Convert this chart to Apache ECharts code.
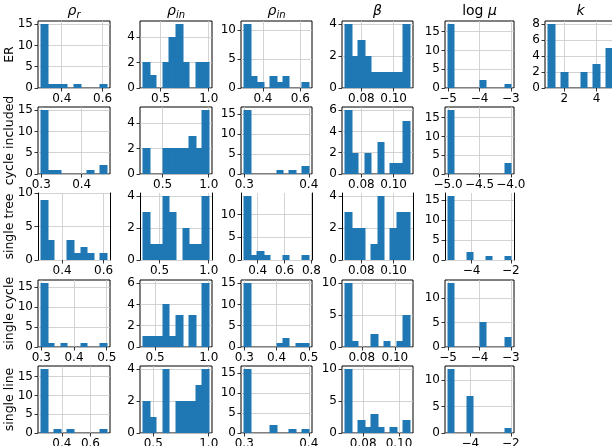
<!DOCTYPE html>
<html>
<head>
<meta charset="UTF-8">
<title>parameter histograms</title>
<script src="https://cdn.jsdelivr.net/npm/echarts@6/dist/echarts.min.js"></script>
</head>
<body style="margin:0">
<div id="chart" style="width:612px;height:446px"></div>
<script>
const rowNames = ['ER', 'cycle included', 'single tree', 'single cycle', 'single line'];
const colTitles = ['{i|ρ}{s|r}', '{i|ρ}{s|in}', '{i|ρ}{s|in}', '{i|β}', '{n|log }{i|μ}', '{i|k}'];

// one entry per row: bin range [lo, hi] (10 bins), counts, x tick labels, y ticks
const rhoRRange = [[0.3, 0.62], [0.3, 0.462], [0.3, 0.615], [0.3, 0.5], [0.256, 0.714]];
const rhoRCounts = [
  [15, 1, 1, 1, 0, 1, 0, 0, 0, 1],
  [15, 1, 1, 0, 0, 0, 0, 1, 0, 2],
  [9, 3, 0, 0, 3, 1, 2, 1, 0, 1],
  [16, 1, 0, 1, 0, 0, 1, 0, 0, 1],
  [17, 0, 1, 0, 1, 0, 0, 0, 0, 1]
];
const rhoRXTicks = [['0.4', '0.6'], ['0.3', '0.4'], ['0.4', '0.6'], ['0.3', '0.4', '0.5'], ['0.4', '0.6']];
const rhoRYTicks = [[0, 5, 10, 15], [0, 5, 10, 15], [0, 5, 10], [0, 5, 10, 15], [0, 5, 10, 15]];

const pInRange = [[0.32, 1.0], [0.29, 1.0], [0.335, 1.0], [0.39, 1.0], [0.41, 1.0]];
const pInCounts = [
  [2, 1, 0, 2, 4, 5, 2, 0, 2, 2],
  [2, 0, 0, 2, 2, 2, 2, 3, 2, 5],
  [3, 1, 1, 4, 3, 0, 2, 1, 1, 4],
  [1, 1, 1, 4, 1, 3, 0, 3, 0, 6],
  [2, 1, 0, 4, 0, 2, 2, 2, 3, 4]
];
const pInXTicks = [['0.5', '1.0'], ['0.5', '1.0'], ['0.5', '1.0'], ['0.5', '1.0'], ['0.5', '1.0']];
const pInYTicks = [[0, 2, 4], [0, 2, 4], [0, 2, 4], [0, 2, 4, 6], [0, 2, 4]];

const pIn2Range = [[0.3, 0.645], [0.3, 0.4], [0.3, 0.78], [0.3, 0.5], [0.3, 0.4]];
const pIn2Counts = [
  [11, 2, 1, 0, 2, 1, 2, 0, 0, 1],
  [16, 0, 0, 0, 0, 1, 0, 1, 0, 2],
  [14, 1, 2, 1, 0, 0, 1, 0, 0, 1],
  [15, 0, 0, 0, 0, 1, 2, 0, 1, 1],
  [16, 0, 0, 0, 2, 0, 0, 1, 0, 1]
];
const pIn2XTicks = [['0.4', '0.6'], ['0.3', '0.4'], ['0.4', '0.6', '0.8'], ['0.3', '0.4', '0.5'], ['0.3', '0.4']];
const pIn2YTicks = [[0, 5, 10], [0, 5, 10, 15], [0, 5, 10], [0, 5, 10, 15], [0, 5, 10, 15]];

const betaRange = [[0.07, 0.11], [0.07, 0.11], [0.07, 0.11], [0.07, 0.109], [0.07, 0.106]];
const betaCounts = [
  [4, 2, 3, 2, 1, 1, 1, 1, 1, 4],
  [6, 2, 0, 2, 0, 3, 0, 1, 1, 5],
  [3, 2, 2, 0, 1, 4, 0, 2, 3, 3],
  [10, 1, 0, 0, 2, 0, 1, 0, 1, 5],
  [10, 0, 2, 1, 3, 1, 0, 1, 0, 2]
];
const betaXTicks = [['0.08', '0.10'], ['0.08', '0.10'], ['0.08', '0.10'], ['0.08', '0.10'], ['0.08', '0.10']];
const betaYTicks = [[0, 2, 4], [0, 2, 4, 6], [0, 2, 4], [0, 5, 10], [0, 5, 10]];

const logMuRange = [[-5, -3], [-5, -4], [-5.2, -2.0], [-5, -3], [-5.1, -2.0]];
const logMuCounts = [
  [17, 0, 0, 0, 0, 2, 0, 0, 0, 1],
  [17, 0, 0, 0, 0, 0, 0, 0, 0, 3],
  [16, 0, 0, 2, 0, 0, 1, 0, 0, 1],
  [13, 0, 0, 0, 0, 5, 0, 0, 0, 2],
  [12, 0, 0, 7, 0, 0, 0, 0, 0, 1]
];
const logMuXTicks = [['−5', '−4', '−3'], ['−5.0', '−4.5', '−4.0'], ['−4', '−2'], ['−5', '−4', '−3'], ['−4', '−2']];
const logMuYTicks = [[0, 5, 10, 15], [0, 5, 10, 15], [0, 5, 10, 15], [0, 5, 10], [0, 5, 10]];

// k only exists for ER
const kRange = [[1, 5]];
const kCounts = [[8, 0, 2, 0, 0, 2, 0, 3, 0, 5]];
const kXTicks = [['2', '4']];
const kYTicks = [[0, 2, 4, 6, 8]];

const columns = [
  { range: rhoRRange, counts: rhoRCounts, xTicks: rhoRXTicks, yTicks: rhoRYTicks },
  { range: pInRange, counts: pInCounts, xTicks: pInXTicks, yTicks: pInYTicks },
  { range: pIn2Range, counts: pIn2Counts, xTicks: pIn2XTicks, yTicks: pIn2YTicks },
  { range: betaRange, counts: betaCounts, xTicks: betaXTicks, yTicks: betaYTicks },
  { range: logMuRange, counts: logMuCounts, xTicks: logMuXTicks, yTicks: logMuYTicks },
  { range: kRange, counts: kCounts, xTicks: kXTicks, yTicks: kYTicks }
];

const colLeft = [38, 140, 241, 342, 445, 545];
const colWidth = [72, 72, 71, 71, 69, 71];
const rowTop = [21, 107, 193, 280, 366];
const cellH = 67;
const font = 'DejaVu Sans';
const gridColor = '#c8c8c8';
const barColor = '#1f77b4';

function drawBin(params, api) {
  const n = api.value(2);
  if (!n) return null;
  const p0 = api.coord([api.value(0), n]);
  const p1 = api.coord([api.value(1), 0]);
  // snap to whole pixels and overlap slightly so neighbouring bins join without seams
  const x0 = Math.round(p0[0]), x1 = Math.round(p1[0]);
  const y0 = Math.round(p0[1]), y1 = Math.round(p1[1]);
  return {
    type: 'rect',
    shape: { x: x0 - 0.5, y: y0, width: x1 - x0 + 1, height: y1 - y0 },
    style: { fill: barColor, stroke: 'none', lineWidth: 0 }
  };
}

const toNum = s => Number(s.replace('−', '-'));

const grids = [], xAxes = [], yAxes = [], series = [];
columns.forEach((col, c) => {
  col.counts.forEach((counts, r) => {
    const gi = grids.length;
    const [lo, hi] = col.range[r];
    const pad = (hi - lo) * 0.05;
    const step = (hi - lo) / counts.length;
    const framed = r !== 2; // the "single tree" row has no top/bottom frame
    const xLabels = col.xTicks[r];
    const xVals = xLabels.map(toNum);
    const yTicks = col.yTicks[r];
    const yMax = Math.max(Math.max(...counts) * 1.05, yTicks[yTicks.length - 1]);

    grids.push({
      left: colLeft[c], top: rowTop[r], width: colWidth[c], height: cellH,
      show: framed, borderColor: '#000', borderWidth: 1, backgroundColor: 'transparent',
      containLabel: false, outerBoundsMode: 'none'
    });
    xAxes.push({
      gridIndex: gi, type: 'value', min: lo - pad, max: hi + pad,
      axisLine: { show: false },
      axisTick: { show: true, customValues: xVals, length: 3.5, lineStyle: { color: '#000', width: 0.8 } },
      axisLabel: {
        customValues: xVals, margin: 5, fontSize: 12, fontFamily: font, color: '#000',
        formatter: v => xLabels[xVals.findIndex(t => Math.abs(t - v) < 1e-9)] ?? ''
      },
      splitLine: { show: true, lineStyle: { color: gridColor, width: 0.8 } }
    });
    const yi = yAxes.length;
    yAxes.push({
      gridIndex: gi, type: 'value', min: 0, max: yMax,
      axisLine: { show: !framed, lineStyle: { color: '#000', width: 1 } },
      axisTick: { show: true, customValues: yTicks, length: 3.5, lineStyle: { color: '#000', width: 0.8 } },
      axisLabel: { customValues: yTicks, margin: 5, fontSize: 12, fontFamily: font, color: '#000' },
      splitLine: { show: true, lineStyle: { color: gridColor, width: 0.8 } }
    });
    if (!framed) {
      yAxes.push({
        gridIndex: gi, type: 'value', position: 'right', min: 0, max: yMax,
        axisLine: { show: true, onZero: false, lineStyle: { color: '#000', width: 1 } },
        axisTick: { show: false }, axisLabel: { show: false }, splitLine: { show: false }
      });
    }
    series.push({
      type: 'custom', xAxisIndex: gi, yAxisIndex: yi, clip: true,
      itemStyle: { borderWidth: 0 },
      renderItem: drawBin, encode: { x: [0, 1], y: 2 },
      data: counts.map((n, b) => [lo + b * step, lo + (b + 1) * step, n])
    });
  });
});

const graphics = [];
colTitles.forEach((t, c) => {
  graphics.push({
    type: 'text', x: colLeft[c] + colWidth[c] / 2, y: 11,
    style: {
      text: t, align: 'center', verticalAlign: 'middle', fill: '#000',
      rich: {
        i: { fontFamily: font, fontStyle: 'italic', fontSize: 14, lineHeight: 18, fill: '#000' },
        n: { fontFamily: font, fontSize: 14, lineHeight: 18, fill: '#000' },
        s: { fontFamily: font, fontStyle: 'italic', fontSize: 10, lineHeight: 18, verticalAlign: 'bottom', fill: '#000' }
      }
    }
  });
});
rowNames.forEach((name, r) => {
  graphics.push({
    type: 'text', x: 10, y: rowTop[r] + cellH / 2, rotation: Math.PI / 2,
    style: { text: name, align: 'center', verticalAlign: 'middle', fontFamily: font, fontSize: 12.5, fill: '#000' }
  });
});

const chart = echarts.init(document.getElementById('chart'));
chart.setOption({
  animation: false,
  backgroundColor: '#fff',
  grid: grids,
  xAxis: xAxes,
  yAxis: yAxes,
  series: series,
  graphic: graphics
});
</script>
</body>
</html>
